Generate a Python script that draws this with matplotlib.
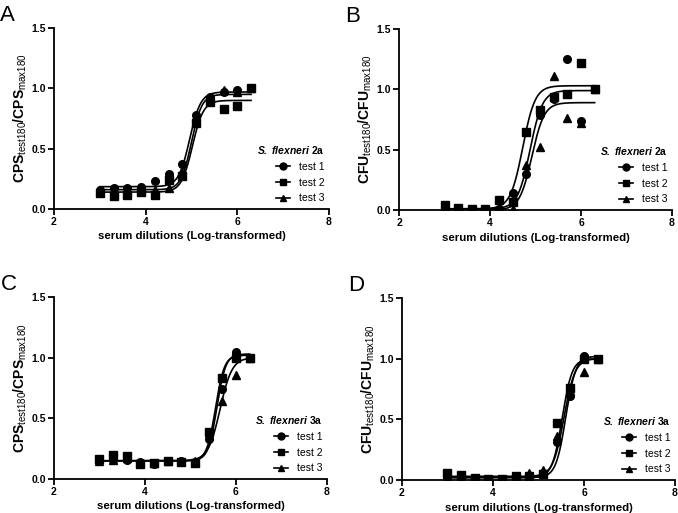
import numpy as np
import matplotlib
matplotlib.use('Agg')
import matplotlib.pyplot as plt
from matplotlib.lines import Line2D

plt.rcParams['font.family'] = ['Liberation Sans', 'DejaVu Sans']
plt.rcParams['mathtext.fontset'] = 'custom'
plt.rcParams['mathtext.rm'] = 'Liberation Sans'
plt.rcParams['mathtext.it'] = 'Liberation Sans:italic'
plt.rcParams['mathtext.bf'] = 'Liberation Sans:bold'
plt.rcParams['mathtext.bfit'] = 'Liberation Sans:bold:italic'

# log10 serum dilutions (2-fold series)
dil = [3.0, 3.3, 3.6, 3.9, 4.2, 4.5, 4.8, 5.1, 5.4, 5.7, 6.0, 6.3]

# panel A : CPS, S. flexneri 2a
A_t1 = [0.16, 0.17, 0.17, 0.18, 0.23, 0.29, 0.37, 0.78, 0.93, 0.97, 0.99, 1.00]
A_t2 = [0.13, 0.11, 0.12, 0.14, 0.12, 0.24, 0.27, 0.71, 0.89, 0.83, 0.85, 1.00]
A_t3 = [0.15, 0.15, 0.15, 0.15, 0.16, 0.17, 0.31, 0.77, 0.92, 0.99, 0.97, 1.00]
# panel B : CFU, S. flexneri 2a
B_t1 = [0.01, 0.01, 0.01, 0.01, 0.01, 0.14, 0.30, 0.79, 0.92, 1.25, 0.74, 1.00]
B_t2 = [0.04, 0.02, 0.01, 0.01, 0.08, 0.07, 0.65, 0.83, 0.94, 0.96, 1.22, 1.00]
B_t3 = [0.00, 0.01, 0.00, 0.00, 0.00, 0.01, 0.37, 0.52, 1.11, 0.76, 0.72, 1.00]
# panel C : CPS, S. flexneri 3a
C_t1 = [0.15, 0.16, 0.16, 0.14, 0.12, 0.15, 0.15, 0.14, 0.33, 0.74, 1.05, 1.00]
C_t2 = [0.165, 0.20, 0.19, 0.12, 0.13, 0.15, 0.14, 0.135, 0.39, 0.83, 1.00, 1.00]
C_t3 = [0.15, 0.16, 0.17, 0.14, 0.13, 0.15, 0.15, 0.15, 0.36, 0.64, 0.86, 1.00]
# panel D : CFU, S. flexneri 3a
D_t1 = [0.02, 0.02, 0.01, 0.01, 0.01, 0.02, 0.03, 0.06, 0.31, 0.69, 1.02, 1.00]
D_t2 = [0.055, 0.04, 0.015, 0.01, 0.01, 0.03, 0.03, 0.05, 0.47, 0.76, 1.00, 1.00]
D_t3 = [0.02, 0.02, 0.01, 0.01, 0.01, 0.02, 0.06, 0.08, 0.36, 0.73, 0.89, 1.00]

# sigmoidal fit parameters [bottom, top, logEC50, hill] per test
A_fit = [[0.185, 0.97, 4.96, 3.6], [0.14, 0.90, 5.02, 3.6], [0.16, 0.95, 5.00, 3.8]]
B_fit = [[0.01, 0.99, 4.88, 3.2], [0.01, 1.03, 4.72, 3.2], [0.00, 0.89, 4.92, 3.2]]
C_fit = [[0.15, 1.03, 5.58, 4.5], [0.15, 1.02, 5.55, 4.5], [0.15, 1.00, 5.65, 3.3]]
D_fit = [[0.02, 1.02, 5.60, 4.0], [0.02, 1.00, 5.52, 4.0], [0.03, 1.00, 5.56, 3.6]]

tests = ['test 1', 'test 2', 'test 3']
markers = ['o', 's', '^']

def sigmoid(x, p):
    bottom, top, ec50, hill = p
    return bottom + (top - bottom) / (1 + 10 ** ((ec50 - x) * hill))

fig = plt.figure(figsize=(6.78, 5.13), dpi=100)

panels = [
    ('A', [0.0796, 0.5926, 0.4056, 0.3528], [A_t1, A_t2, A_t3], A_fit, 'CPS', '2a'),
    ('B', [0.5885, 0.5906, 0.4027, 0.3528], [B_t1, B_t2, B_t3], B_fit, 'CFU', '2a'),
    ('C', [0.0796, 0.0663, 0.4027, 0.3548], [C_t1, C_t2, C_t3], C_fit, 'CPS', '3a'),
    ('D', [0.5929, 0.0643, 0.4027, 0.3548], [D_t1, D_t2, D_t3], D_fit, 'CFU', '3a'),
]

xfit = np.linspace(dil[0], dil[-1], 300)
for letter, rect, series, fits, unit, strain in panels:
    ax = fig.add_axes(rect)
    for ys, p, m in zip(series, fits, markers):
        ax.plot(xfit, sigmoid(xfit, p), color='black', lw=1.2)
        ax.plot(dil, ys, linestyle='none', marker=m, color='black', markersize=5.5)
    ax.set_xlim(2, 8)
    ax.set_ylim(0, 1.5)
    ax.set_xticks([2, 4, 6, 8])
    ax.set_yticks([0.0, 0.5, 1.0, 1.5])
    ax.set_yticklabels(['0.0', '0.5', '1.0', '1.5'])
    for s in ['top', 'right']:
        ax.spines[s].set_visible(False)
    for s in ['left', 'bottom']:
        ax.spines[s].set_linewidth(1.3)
    ax.tick_params(width=1.3, length=4, labelsize=7.5, pad=2)
    for lab in ax.get_xticklabels() + ax.get_yticklabels():
        lab.set_fontweight('bold')
    ax.set_xlabel('serum dilutions (Log-transformed)', fontsize=8.2, fontweight='bold', labelpad=3)
    ax.set_ylabel(r'$\mathbf{%s}_{\mathrm{test180}}\mathbf{/%s}_{\mathrm{max180}}$' % (unit, unit),
                  fontsize=10)
    ax.yaxis.set_label_coords(-0.09, 0.5)
    handles = [Line2D([], [], color='black', marker=m, markersize=5, lw=1.2) for m in markers]
    leg = ax.legend(handles, tests, loc='lower right', bbox_to_anchor=(1.018, -0.02),
                    frameon=False, fontsize=7.5, handlelength=1.3, handletextpad=0.9,
                    labelspacing=0.55,
                    title=r'$\mathbfit{S.\ flexneri}$ $\mathbf{%s}$' % strain, title_fontsize=7.5)
    leg._legend_box.align = 'right'
    fig.text(rect[0] - 0.079, rect[1] + rect[3] + 0.003, letter, fontsize=16,
             fontweight='normal', ha='left', va='bottom')

plt.savefig('out.png', dpi=100)
